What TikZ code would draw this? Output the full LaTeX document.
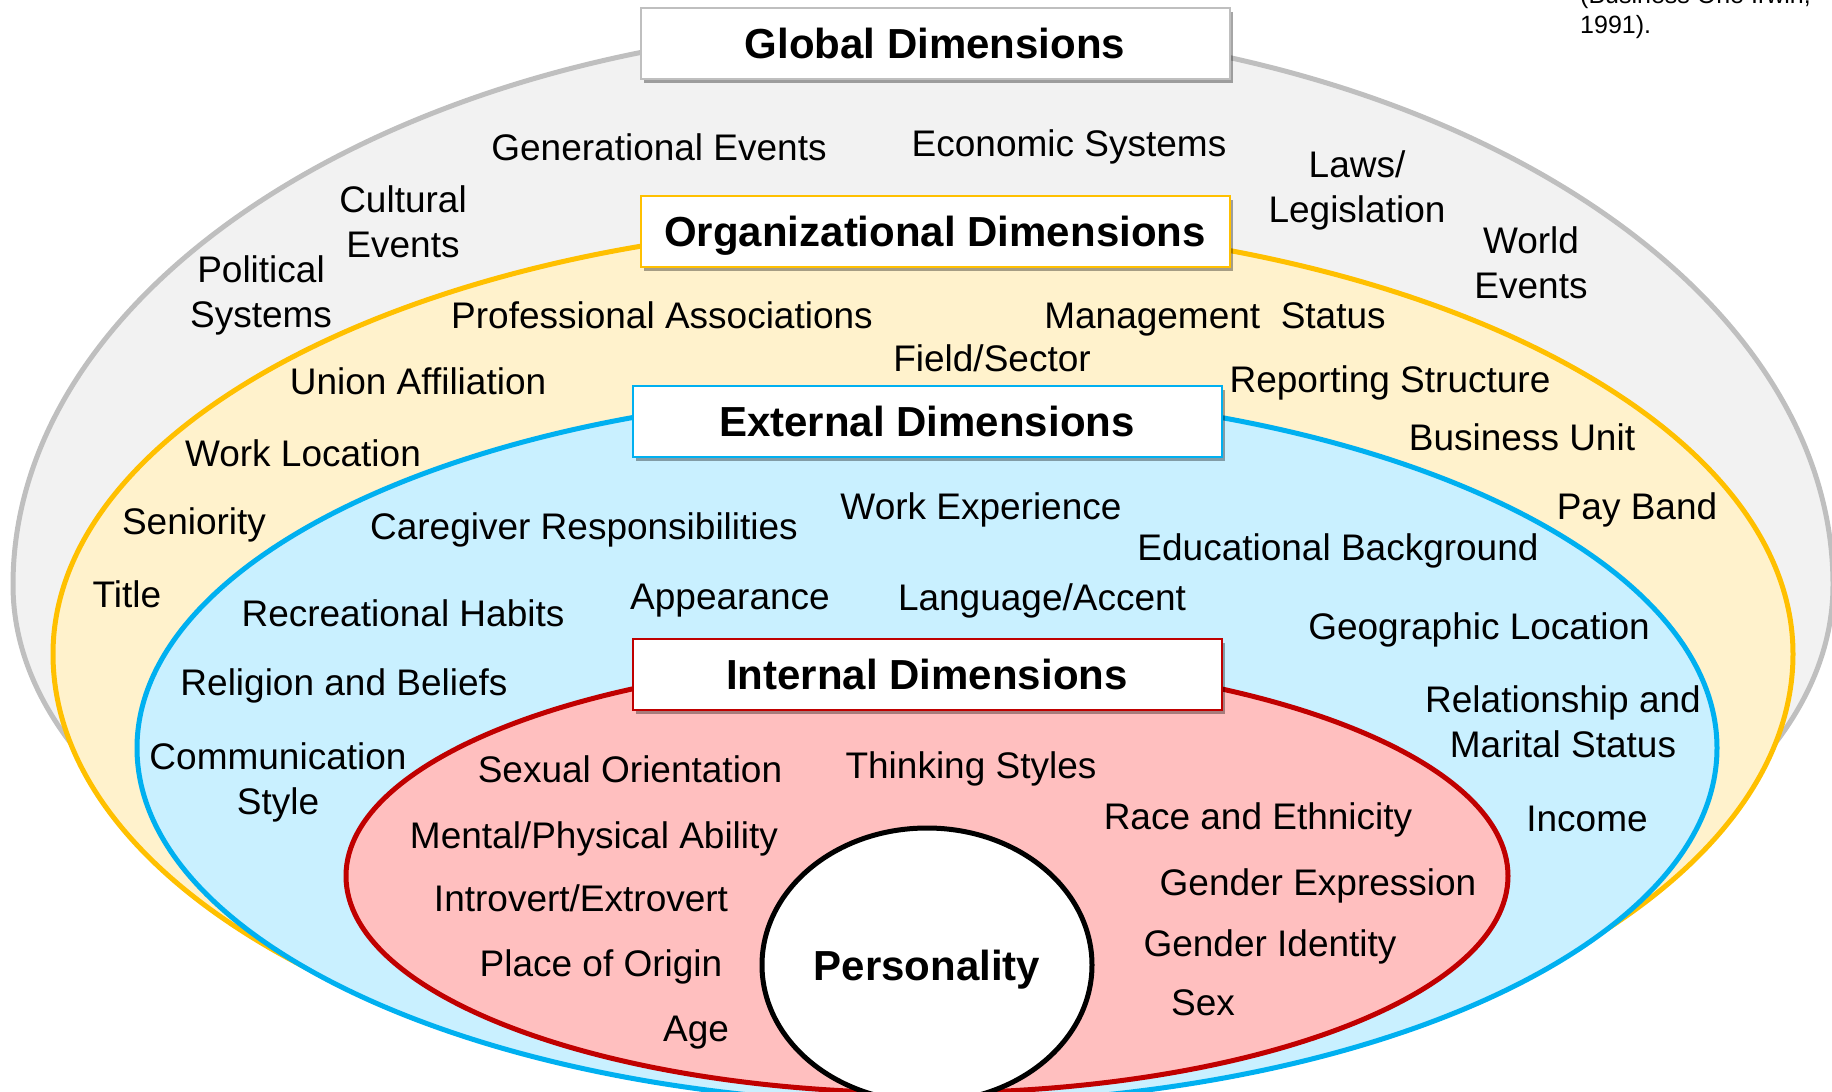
\documentclass[tikz,border=0pt]{standalone}
\usepackage{fontspec}
\setmainfont{Liberation Sans}
\usepackage{tikz}
\usetikzlibrary{shapes.geometric,shadows}

\definecolor{globfill}{RGB}{242,242,242}
\definecolor{globline}{RGB}{191,191,191}
\definecolor{orgfill}{RGB}{255,242,204}
\definecolor{orgline}{RGB}{255,192,0}
\definecolor{extfill}{RGB}{201,240,255}
\definecolor{extline}{RGB}{0,176,240}
\definecolor{intfill}{RGB}{255,191,191}
\definecolor{intline}{RGB}{192,0,0}

\begin{document}
\begin{tikzpicture}[x=1pt, y=-1pt,
  dimbox/.style={draw, fill=white, line width=2pt, minimum width=589pt, minimum height=71pt,
    inner sep=0pt, text height=30pt, text depth=0pt, font=\fontsize{42}{50}\selectfont\bfseries,
    drop shadow={shadow xshift=3pt, shadow yshift=-4pt, opacity=0.35, fill=black}},
  lbl/.style={inner sep=0pt, text height=26.5pt, text depth=0pt, font=\fontsize{37}{44}\selectfont},
  lbltwo/.style={inner sep=0pt, align=center, text depth=0pt, font=\fontsize{37}{45}\selectfont},
  ring/.style={line width=5pt}]

  \clip (0,0) rectangle (1832,1092);

  %% layers, outside in (lower halves a bit flatter so they tuck in)
  \begin{scope}
    \clip (0,0) rectangle (1832,760); % grey only shows above, it is under the yellow below
    \filldraw[ring, draw=globline, fill=globfill] (13,585)
      arc[start angle=180, end angle=360, x radius=910, y radius=560]
      arc[start angle=0, end angle=180, x radius=910, y radius=450] -- cycle;
  \end{scope}
  \filldraw[ring, draw=orgline, fill=orgfill] (53,654)
    arc[start angle=180, end angle=360, x radius=870, y radius=431]
    arc[start angle=0, end angle=180, x radius=870, y radius=445] -- cycle;
  \filldraw[ring, draw=extline, fill=extfill] (927,748) ellipse[x radius=790, y radius=356];
  \filldraw[ring, draw=intline, fill=intfill] (927,876) ellipse[x radius=581, y radius=217];
  \node[draw, ellipse, line width=5pt, fill=white, minimum width=330pt, minimum height=274pt,
    text height=30pt, text depth=0pt, font=\fontsize{42}{50}\selectfont\bfseries] (pers) at (927,965) {Personality};

  %% headings
  \node[dimbox, draw=globline] (globbox) at (935,43) {Global Dimensions};
  \node[dimbox, draw=orgline] (orgbox) at (935,231) {Organizational Dimensions};
  \node[dimbox, draw=extline] (extbox) at (927,421) {External Dimensions};
  \node[dimbox, draw=intline] (intbox) at (927,674) {Internal Dimensions};

  % global
  \node[lbl] (genev) at (659,147) {Generational Events};
  \node[lbl] (econ) at (1069,143) {Economic Systems};
  \node[lbltwo] (cultev) at (403,222) {Cultural\\Events};
  \node[lbltwo] (polsys) at (261,292) {Political\\Systems};
  \node[lbltwo] (laws) at (1357,187) {Laws/\\Legislation};
  \node[lbltwo] (world) at (1531,263) {World\\Events};

  % organizational
  \node[lbl] (prof) at (662,315) {Professional Associations};
  \node[lbl] (mgmt) at (1215,315) {Management~~Status};
  \node[lbl] (field) at (992,358) {Field/Sector};
  \node[lbl] (union) at (418,381) {Union Affiliation};
  \node[lbl] (report) at (1390,379) {Reporting Structure};
  \node[lbl] (workloc) at (303,453) {Work Location};
  \node[lbl] (bunit) at (1522,437) {Business Unit};
  \node[lbl] (senior) at (194,521) {Seniority};
  \node[lbl] (payband) at (1637,506) {Pay Band};
  \node[lbl] (title) at (127,594) {Title};

  % external
  \node[lbl] (caregiver) at (584,526) {Caregiver Responsibilities};
  \node[lbl] (workexp) at (981,506) {Work Experience};
  \node[lbl] (edu) at (1338,547) {Educational Background};
  \node[lbl] (recr) at (403,613) {Recreational Habits};
  \node[lbl] (appear) at (730,596) {Appearance};
  \node[lbl] (lang) at (1042,597) {Language/Accent};
  \node[lbl] (geo) at (1479,626) {Geographic Location};
  \node[lbl] (relig) at (344,682) {Religion and Beliefs};
  \node[lbltwo] (marital) at (1563,722) {Relationship and\\Marital Status};
  \node[lbltwo] (comm) at (278,779) {Communication\\Style};
  \node[lbl] (income) at (1587,818) {Income};

  % internal
  \node[lbl] (sexor) at (630,769) {Sexual Orientation};
  \node[lbl] (think) at (971,765) {Thinking Styles};
  \node[lbl] (race) at (1258,816) {Race and Ethnicity};
  \node[lbl] (ability) at (594,835) {Mental/Physical Ability};
  \node[lbl] (introv) at (581,898) {Introvert/Extrovert};
  \node[lbl] (genexp) at (1318,882) {Gender Expression};
  \node[lbl] (origin) at (601,963) {Place of Origin};
  \node[lbl] (genid) at (1270,943) {Gender Identity};
  \node[lbl] (age) at (696,1028) {Age};
  \node[lbl] (sex) at (1203,1002) {Sex};

  % source, top right
  \node[anchor=base west, inner sep=0pt, font=\fontsize{25}{31}\selectfont] (src) at (1580,3) {(Business One Irwin,};
  \node[anchor=base west, inner sep=0pt, font=\fontsize{25}{31}\selectfont] (srcyear) at (1580,34) {1991).};

\end{tikzpicture}
\end{document}
